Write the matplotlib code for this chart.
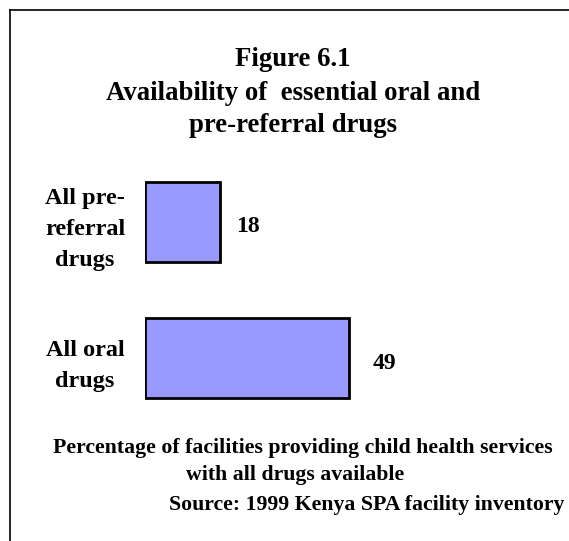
import matplotlib.pyplot as plt

categories = ["All oral\ndrugs", "All pre-\nreferral\ndrugs"]
values = [49, 18]
value_labels = ["49", "18"]

title_lines = ["Figure 6.1", "Availability of  essential oral and", "pre-referral drugs"]
note_lines = ["Percentage of facilities providing child health services",
              "with all drugs available",
              "Source: 1999 Kenya SPA facility inventory"]

W, H = 569, 541
DPI = 100

fig = plt.figure(figsize=(W / DPI, H / DPI), dpi=DPI)
plt.rcParams['font.family'] = ['Liberation Serif', 'DejaVu Serif']

def fx(px):
    return px / W

def fy(py):
    return 1 - py / H

PT = 72 / DPI  # points per pixel

# frame round the figure (top and left edges visible)
fig.add_artist(plt.Line2D([fx(10), fx(10)], [fy(10), 0], color='black', lw=1.2))
fig.add_artist(plt.Line2D([fx(10), 1], [fy(10), fy(10)], color='black', lw=1.2))

# axes: x=0 at px 144.5, ~4.17 px per unit
x0 = 144.5
ppu = (348.7 - 144.5) / 49.0
ax = fig.add_axes([fx(x0), fy(426.5), fx(100 * ppu), (426.5 - 153.5) / H])
ax.set_xlim(0, 100)
ax.set_ylim(-0.5, 1.5)
ax.axis('off')

ypos = list(range(len(categories)))
ax.barh(ypos, values, height=80 / 136.5, color='#9999ff', edgecolor='black', linewidth=2)

gaps = [24, 17]
for y, v, lab, g in zip(ypos, values, value_labels, gaps):
    ax.annotate(lab, (v, y), xytext=(g * PT, -5 * PT), textcoords='offset points',
                ha='left', va='center', fontsize=17, fontweight='bold')

for y, c in zip(ypos, categories):
    ax.annotate(c, (0, y), xytext=(-59.5 * PT, -8 * PT), textcoords='offset points',
                ha='center', va='center', fontsize=17.5, fontweight='bold',
                linespacing=1.63)

# titles
title_base = [66, 100, 132]
for t, b in zip(title_lines, title_base):
    fig.text(fx(293), fy(b), t, ha='center', va='baseline', fontsize=19.3,
             fontweight='bold')

note_x = [302.5, 295, 367]
note_base = [453, 480, 510]
for t, xx, b in zip(note_lines, note_x, note_base):
    fig.text(fx(xx), fy(b), t, ha='center', va='baseline', fontsize=15.7,
             fontweight='bold')

fig.savefig("out.png", dpi=DPI)
